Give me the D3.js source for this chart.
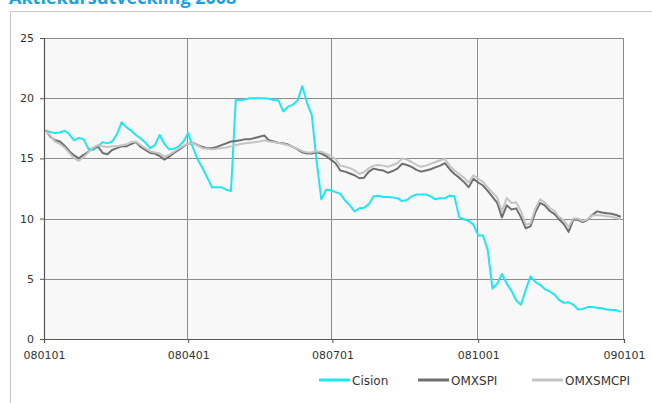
<!DOCTYPE html>
<html>
<head>
<meta charset="utf-8">
<script src="https://cdn.jsdelivr.net/npm/d3@7"></script>
<style>
  body { margin: 0; background: #fff; }
  svg { display: block; }
</style>
</head>
<body>
<script>
// Trading dates (sampled roughly every third day), format YYMMDD
const dates = [
  "080102","080105","080108","080111","080114","080117","080120","080123","080126","080129",
  "080201","080204","080207","080210","080213","080216","080219","080222","080225","080228",
  "080302","080305","080308","080311","080314","080317","080320","080323","080326","080329",
  "080401","080404","080407","080410","080413","080416","080419","080422","080425","080428",
  "080501","080504","080507","080510","080513","080516","080519","080522","080525","080528",
  "080531","080603","080606","080609","080612","080615","080618","080621","080624","080627",
  "080630","080703","080706","080709","080712","080715","080718","080721","080724","080727",
  "080730","080802","080805","080808","080811","080814","080817","080820","080823","080826",
  "080829","080901","080904","080907","080910","080913","080916","080919","080922","080925",
  "080928","081001","081004","081007","081010","081013","081016","081019","081022","081025",
  "081028","081031","081103","081106","081109","081112","081115","081118","081121","081124",
  "081127","081130","081203","081206","081209","081212","081215","081218","081221","081224",
  "081227","081230"
];

const cision = [
  17.3,17.2,17.1,17.15,17.3,17.0,16.5,16.7,16.6,15.8,
  15.7,16.0,16.35,16.25,16.4,17.0,18.0,17.6,17.3,16.95,
  16.65,16.3,15.85,16.1,16.95,16.2,15.75,15.8,16.0,16.4,
  17.1,15.9,14.9,14.2,13.4,12.6,12.6,12.6,12.4,12.3,
  19.85,19.85,19.9,20.0,20.0,20.0,20.0,19.95,19.85,19.8,
  18.9,19.3,19.45,19.8,21.0,19.6,18.6,14.8,11.6,12.4,
  12.35,12.2,12.05,11.5,11.1,10.6,10.85,10.9,11.2,11.85,
  11.9,11.8,11.8,11.75,11.7,11.45,11.55,11.85,12.0,12.0,
  12.0,11.85,11.6,11.7,11.7,11.9,11.85,10.1,9.95,9.8,
  9.5,8.6,8.6,7.4,4.2,4.6,5.4,4.6,4.0,3.2,
  2.85,4.1,5.2,4.75,4.5,4.15,3.95,3.7,3.25,3.0,
  3.05,2.85,2.45,2.5,2.65,2.65,2.6,2.55,2.45,2.4,
  2.4,2.25
];

const omxspi = [
  17.35,16.8,16.5,16.4,16.05,15.6,15.25,15.0,15.3,15.55,
  15.85,16.0,15.45,15.35,15.7,15.85,16.0,16.0,16.2,16.35,
  15.95,15.7,15.45,15.4,15.2,14.9,15.15,15.45,15.7,16.0,
  16.2,16.3,16.1,15.95,15.85,15.85,15.95,16.1,16.25,16.4,
  16.45,16.5,16.6,16.6,16.7,16.8,16.9,16.5,16.4,16.3,
  16.25,16.15,15.95,15.75,15.5,15.4,15.4,15.5,15.4,15.2,
  14.9,14.6,14.0,13.9,13.75,13.6,13.35,13.4,13.9,14.15,
  14.05,14.0,13.8,13.95,14.15,14.55,14.45,14.3,14.05,13.9,
  14.0,14.1,14.25,14.4,14.6,14.1,13.7,13.4,13.05,12.6,
  13.3,13.0,12.75,12.3,11.8,11.3,10.1,11.1,10.75,10.85,
  10.1,9.2,9.35,10.5,11.3,11.1,10.65,10.4,9.95,9.55,
  8.9,9.9,9.9,9.7,9.9,10.3,10.6,10.5,10.45,10.4,
  10.3,10.15
];

const omxsmcpi = [
  17.3,16.9,16.4,16.2,15.9,15.45,15.0,14.8,15.1,15.5,
  15.9,16.1,16.0,15.95,16.0,16.0,16.1,16.15,16.35,16.4,
  16.1,15.85,15.6,15.5,15.4,15.15,15.3,15.55,15.8,16.05,
  16.2,16.3,16.05,15.85,15.8,15.75,15.8,15.85,15.9,16.0,
  16.1,16.2,16.25,16.3,16.35,16.4,16.5,16.4,16.35,16.3,
  16.2,16.1,15.95,15.8,15.6,15.5,15.5,15.6,15.55,15.4,
  15.2,14.95,14.4,14.3,14.2,14.0,13.7,13.85,14.2,14.4,
  14.45,14.4,14.3,14.45,14.6,15.0,14.9,14.7,14.45,14.3,
  14.4,14.55,14.7,14.85,14.95,14.4,14.0,13.7,13.4,13.0,
  13.6,13.3,13.05,12.6,12.15,11.75,10.6,11.7,11.3,11.35,
  10.6,9.5,9.6,10.8,11.6,11.35,10.9,10.65,10.15,9.85,
  9.3,10.0,10.0,9.8,9.95,10.25,10.3,10.25,10.2,10.15,
  10.05,9.95
];

const xTickLabels = ["080101", "080401", "080701", "081001", "090101"];
const yTicks = [0, 5, 10, 15, 20, 25];

const seriesNames = ["Cision", "OMXSPI", "OMXSMCPI"];
const seriesValues = [cision, omxspi, omxsmcpi];
const seriesColors = ["#1de7f3", "#6f6f6f", "#c4c4c4"];

const W = 652, H = 403;
const margin = { top: 38, right: 28, bottom: 64, left: 44 },
    width = W - margin.left - margin.right,
    height = H - margin.top - margin.bottom;

const parse = d3.timeParse("%y%m%d");

const svg = d3.select("body")
    .append("svg")
    .attr("width", W)
    .attr("height", H)
    .style("font-family", "'DejaVu Sans', Verdana, sans-serif");

// outer frame
svg.append("path")
    .attr("d", `M10.5,${H} V11.5 H${W}`)
    .attr("fill", "none")
    .attr("stroke", "#c9c9c9")
    .attr("stroke-width", 1.2);

// title (partly cut off at the top, as in the source)
svg.append("text")
    .attr("x", 9)
    .attr("y", 4)
    .attr("fill", "#19a2df")
    .style("font-family", "'Open Sans', sans-serif")
    .style("font-weight", "bold")
    .style("font-size", "18px")
    .text("Aktiekursutveckling 2008");

const g = svg.append("g")
    .attr("transform", `translate(${margin.left},${margin.top})`);

const x = d3.scaleTime()
    .domain([parse(xTickLabels[0]), parse(xTickLabels[xTickLabels.length - 1])])
    .range([0, width]);

const y = d3.scaleLinear()
    .domain([0, 25])
    .range([height, 0]);

// plot background
g.append("rect")
    .attr("width", width)
    .attr("height", height)
    .attr("fill", "#f8f8f8");

// grid lines
g.append("g")
    .selectAll("line")
    .data(yTicks.slice(1))
    .join("line")
    .attr("x1", 0).attr("x2", width)
    .attr("y1", d => Math.round(y(d)) + 0.5)
    .attr("y2", d => Math.round(y(d)) + 0.5)
    .attr("stroke", "#8c8c8c");

g.append("g")
    .selectAll("line")
    .data(xTickLabels.slice(1))
    .join("line")
    .attr("x1", d => Math.round(x(parse(d))) - 0.5)
    .attr("x2", d => Math.round(x(parse(d))) - 0.5)
    .attr("y1", 0).attr("y2", height)
    .attr("stroke", "#8c8c8c");

// series lines
const line = d3.line()
    .x((d, i) => x(parse(dates[i])))
    .y(d => y(d));

seriesValues.forEach((vals, k) => {
    g.append("path")
        .datum(vals)
        .attr("fill", "none")
        .attr("stroke", seriesColors[k])
        .attr("stroke-width", 2)
        .attr("stroke-linejoin", "round")
        .attr("d", line);
});

// axes
const yAxis = g.append("g")
    .call(d3.axisLeft(y).tickValues(yTicks).tickSize(4).tickPadding(6));
const xAxis = g.append("g")
    .attr("transform", `translate(0,${height})`)
    .call(d3.axisBottom(x)
        .tickValues(xTickLabels.map(parse))
        .tickFormat(d3.timeFormat("%y%m%d"))
        .tickSize(4).tickPadding(8));

[yAxis, xAxis].forEach(a => {
    a.select(".domain").attr("stroke", "#555").attr("stroke-width", 1.2);
    a.selectAll(".tick line").attr("stroke", "#555");
    a.selectAll(".tick text")
        .attr("fill", "#333")
        .style("font-size", "11px")
        .style("font-family", "'DejaVu Sans', Verdana, sans-serif");
});

// legend
const legendX = [319, 418, 532];
const legend = svg.append("g");
seriesNames.forEach((name, k) => {
    legend.append("line")
        .attr("x1", legendX[k]).attr("x2", legendX[k] + 31)
        .attr("y1", 380).attr("y2", 380)
        .attr("stroke", seriesColors[k])
        .attr("stroke-width", 3);
    legend.append("text")
        .attr("x", legendX[k] + 33)
        .attr("y", 384.5)
        .attr("fill", "#333")
        .style("font-size", "12px")
        .text(name);
});
</script>
</body>
</html>
